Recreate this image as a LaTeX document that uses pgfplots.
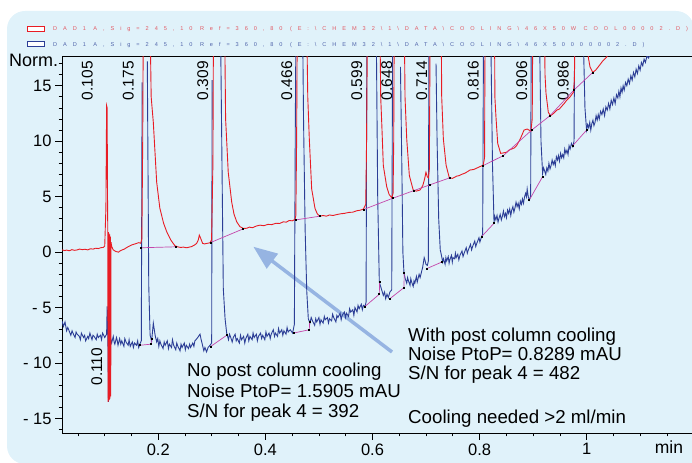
\documentclass[border=0pt]{standalone}
\usepackage{fontspec}
\setmainfont{Liberation Sans}
\newfontfamily\legfont{Liberation Sans}[LetterSpace=106]
\usepackage{pgfplots}
\pgfplotsset{compat=1.18}
\usetikzlibrary{arrows.meta}
\definecolor{bgblue}{RGB}{224,242,250}
\definecolor{trred}{RGB}{232,28,36}
\definecolor{trblue}{RGB}{44,62,150}
\definecolor{basemag}{RGB}{196,70,170}
\definecolor{arrowblue}{RGB}{150,180,226}
\definecolor{legred}{RGB}{226,90,100}
\definecolor{legblue}{RGB}{80,100,170}
\begin{document}
\begin{tikzpicture}
\begin{scope}[x=1bp,y=1bp]
\fill[bgblue,rounded corners=18bp] (7,-1) rectangle (694,452);
\fill[bgblue] (600,-1) rectangle (700,100);
% legend
\draw[trred,line width=0.8bp,fill=white] (27,431.5) rectangle (44,436.5);
\draw[trblue,line width=0.8bp,fill=white] (27,416.2) rectangle (44,421.2);
\node[anchor=base west,inner sep=0,text=legred,font=\legfont\fontsize{5.6bp}{6bp}\selectfont] at (53,432) {DAD1 A,Sig=245,10 Ref=360,80 (E:\textbackslash CHEM32\textbackslash 1\textbackslash DATA\textbackslash COOLING\textbackslash 46X50W COOL00002.D)};
\node[anchor=base west,inner sep=0,text=legblue,font=\legfont\fontsize{5.6bp}{6bp}\selectfont] at (53,416.7) {DAD1 A,Sig=245,10 Ref=360,80 (E:\textbackslash CHEM32\textbackslash 1\textbackslash DATA\textbackslash COOLING\textbackslash 46X50000002.D)};
% arrow
\draw[arrowblue,line width=3.5bp,-{Triangle[length=24bp,width=18bp]}] (392,111) -- (253.3,216.3);
\end{scope}
\begin{axis}[at={(62bp,30bp)},anchor=south west,scale only axis,
  width=630bp,height=376.3bp,
  xmin=0.0202,xmax=1.1966,ymin=-16.31,ymax=17.62,
  axis x line*=bottom,axis y line*=left,
  axis line style={black,line width=0.8bp},
  xtick={0.2,0.4,0.6,0.8,1},xticklabels={0.2,0.4,0.6,0.8,1},
  minor xtick={0.05,0.1,...,1.15},
  ytick={-15,-10,-5,0,5,10,15},yticklabels={- 15,- 10,- 5,0,5,10,15},
  minor ytick={-16,-15,...,17},
  tick align=outside,major tick length=7bp,minor tick length=3.5bp,
  tick style={black,line width=0.7bp},
  ticklabel style={font=\fontsize{16.5bp}{18bp}\selectfont},
  unbounded coords=jump,
  clip=true]
\draw[black,line width=0.8bp] (rel axis cs:0,1) -- (rel axis cs:1,1);
\foreach \t/\x in {0.105/0.0674,0.175/0.1440,0.309/0.2829,0.466/0.4398,0.599/0.5705,0.648/0.6265,0.714/0.6919,0.816/0.7882,0.906/0.8786,0.986/0.9563}{
  \edef\tmp{\noexpand\node[rotate=90,inner sep=0,font=\noexpand\fontsize{15.5bp}{16bp}\noexpand\selectfont] at (axis cs:\x,15.46) {\t};}\tmp
}
\node[rotate=90,inner sep=0,font=\fontsize{15.5bp}{16bp}\selectfont] at (axis cs:0.0850,-10.33) {0.110};
% blue trace
\addplot[trblue,line width=0.9bp,no marks] coordinates {
(0.0202,-6.2) (0.0229,-6.7) (0.0258,-6.3) (0.0288,-7.1) (0.0310,-6.8) (0.0327,-7.0) (0.0367,-7.5) (0.0390,-7.1) (0.0406,-7.3) (0.0446,-7.7) (0.0465,-7.2) (0.0485,-7.4) (0.0525,-7.6) (0.0545,-7.9) (0.0564,-7.3) (0.0604,-7.7) (0.0625,-7.5) (0.0643,-8.0) (0.0683,-7.6) (0.0700,-7.8) (0.0723,-7.3) (0.0762,-7.9) (0.0780,-7.5) (0.0802,-7.6) (0.0841,-7.9) (0.0860,-7.4) (0.0881,-7.7) (0.0921,-7.5) (0.0940,-7.9) (0.0960,-7.3) (0.1000,-7.7) (0.1035,-7.4)
(0.1045,-4.9) (0.1055,-6.0) (0.1070,-13.5)
(0.1080,-7.5) (0.1100,-8.4) (0.1115,-7.9) (0.1129,-8.2) (0.1159,-7.6) (0.1175,-8.1) (0.1189,-8.3) (0.1219,-7.7) (0.1235,-8.0) (0.1248,-8.4) (0.1278,-7.8) (0.1300,-8.3) (0.1318,-8.0) (0.1358,-8.5) (0.1375,-7.8) (0.1397,-8.1) (0.1437,-8.4) (0.1455,-7.9) (0.1476,-8.5) (0.1515,-8.1) (0.1535,-8.6) (0.1555,-8.2) (0.1595,-8.4) (0.1615,-8.0) (0.1634,-8.6) (0.1663,-8.2) (0.1683,-8.0) (0.1698,15.3)
(0.1750,nan)
(0.1795,17.2) (0.1822,-3) (0.1847,-7.5) (0.1876,-8.0) (0.1907,-6.4)
(0.1941,-7.5) (0.1970,-8.1) (0.1990,-7.8) (0.2010,-8.5) (0.2030,-8.0) (0.2049,-8.3) (0.2089,-8.7) (0.2110,-8.1) (0.2129,-8.4) (0.2168,-8.0) (0.2190,-8.7) (0.2208,-8.3) (0.2247,-8.6) (0.2265,-7.9) (0.2287,-8.4) (0.2326,-8.8) (0.2345,-8.2) (0.2366,-8.5) (0.2406,-8.9) (0.2425,-8.3) (0.2445,-8.6) (0.2485,-8.2) (0.2505,-8.8) (0.2524,-8.4) (0.2564,-8.7) (0.2585,-8.3) (0.2603,-8.6) (0.2643,-8.2) (0.2665,-8.5) (0.2683,-8.0) (0.2722,-7.8) (0.2750,-7.6) (0.2779,-7.4) (0.2801,-7.9) (0.2831,-8.5) (0.2850,-8.9) (0.2871,-8.6) (0.2901,-9.0) (0.2930,-8.6) (0.2966,-8.4) (0.2997,-8.2) (0.3005,15.5)
(0.3100,nan)
(0.3165,19) (0.3214,-3.3) (0.3247,-6) (0.3277,-7.3)
(0.3311,-7.9) (0.3330,-7.4) (0.3346,-7.6) (0.3380,-8.1) (0.3401,-7.7) (0.3435,-7.4) (0.3455,-8.0) (0.3474,-7.8) (0.3514,-8.2) (0.3535,-7.5) (0.3554,-7.9) (0.3593,-7.6) (0.3615,-8.2) (0.3633,-7.8) (0.3672,-7.4) (0.3690,-8.0) (0.3712,-7.6) (0.3752,-7.9) (0.3770,-7.3) (0.3791,-7.7) (0.3831,-7.4) (0.3850,-8.0) (0.3870,-7.6) (0.3910,-7.3) (0.3930,-7.8) (0.3950,-7.5) (0.3989,-7.9) (0.4010,-7.2) (0.4029,-7.6) (0.4068,-7.3) (0.4090,-7.8) (0.4108,-7.4) (0.4148,-7.0) (0.4170,-7.6) (0.4187,-7.3) (0.4227,-7.6) (0.4245,-6.9) (0.4266,-7.3) (0.4306,-7.0) (0.4325,-7.5) (0.4346,-7.1) (0.4385,-7.4) (0.4405,-6.8) (0.4425,-7.2) (0.4464,-7.0) (0.4508,-7.3)
(0.4541,-6.5) (0.4559,12) (0.4569,19) (0.4698,19) (0.4712,12) (0.4742,2) (0.4772,-3.5) (0.4801,-6.0)
(0.4831,-6.4) (0.4855,-5.9) (0.4880,-6.2) (0.4920,-6.6) (0.4940,-6.0) (0.4959,-6.3) (0.4999,-5.9) (0.5020,-6.5) (0.5038,-6.1) (0.5078,-6.4) (0.5100,-5.8) (0.5118,-6.1) (0.5157,-5.9) (0.5178,-6.4) (0.5197,-6.0) (0.5236,-6.2) (0.5255,-5.6) (0.5276,-5.9) (0.5316,-6.3) (0.5335,-5.7) (0.5355,-5.9) (0.5395,-5.5) (0.5415,-6.1) (0.5434,-5.7) (0.5474,-5.4) (0.5495,-5.9) (0.5513,-5.5) (0.5553,-5.8) (0.5572,-5.1) (0.5593,-5.4) (0.5632,-5.2) (0.5652,-5.7) (0.5672,-5.0) (0.5711,-5.4) (0.5730,-4.8) (0.5751,-5.1) (0.5790,-4.7) (0.5810,-5.2) (0.5830,-4.8) (0.5860,-4.9) (0.5880,-4.5)
(0.5894,19) (0.6072,19) (0.6097,5) (0.6127,-2.7) (0.6202,-3.9) (0.6225,-3.6) (0.6246,-4.2) (0.6270,-3.8) (0.6295,-4.1) (0.6325,-3.6) (0.6359,-3.4) (0.6375,19)
(0.6420,nan)
(0.6522,16.7) (0.6547,8) (0.6567,0) (0.6588,-1.9)
(0.6611,-2.4) (0.6639,-2.8) (0.6655,-2.3) (0.6672,-2.6) (0.6701,-3.0) (0.6715,-2.4) (0.6731,-2.7) (0.6760,-3.1) (0.6775,-2.6) (0.6790,-2.8) (0.6820,-2.2) (0.6835,-2.7) (0.6850,-2.4) (0.6870,-2.0) (0.6889,-2.3) (0.6919,-1.7) (0.6935,-1.4) (0.6949,-1.0) (0.6965,-0.5) (0.6978,-0.7) (0.6998,-1.1) (0.7024,-1.2) (0.7043,-0.8) (0.7053,19)
(0.7100,nan)
(0.7186,17.0) (0.7206,10) (0.7236,3) (0.7265,0.2)
(0.7292,-0.4) (0.7310,-0.9) (0.7326,-0.6) (0.7355,-1.1) (0.7370,-0.5) (0.7385,-0.8) (0.7414,-0.4) (0.7430,-1.0) (0.7444,-0.7) (0.7474,-0.3) (0.7490,-0.9) (0.7503,-0.5) (0.7533,-0.6) (0.7548,-0.1) (0.7562,-0.5) (0.7592,-0.2) (0.7612,-0.7) (0.7632,-0.3) (0.7671,0.1) (0.7690,-0.4) (0.7711,-0.1) (0.7750,0.4) (0.7770,-0.1) (0.7790,0.2) (0.7830,0.7) (0.7850,0.2) (0.7869,0.5) (0.7909,1.0) (0.7928,0.5) (0.7948,0.8) (0.7988,1.3) (0.8005,0.9) (0.8017,1.1) (0.8037,1.4) (0.8057,1.6)
(0.8072,19) (0.8210,19) (0.8240,8)
(0.8269,2.7) (0.8285,3.2) (0.8304,2.9) (0.8325,3.3) (0.8344,2.7) (0.8365,3.1) (0.8384,3.4) (0.8405,2.9) (0.8423,3.2) (0.8445,3.7) (0.8463,3.2) (0.8485,3.5) (0.8502,3.1) (0.8522,3.8) (0.8542,3.5) (0.8562,3.9) (0.8582,3.3) (0.8600,3.8) (0.8621,4.1) (0.8640,3.6) (0.8661,4.0) (0.8680,4.5) (0.8700,4.1) (0.8720,4.4) (0.8740,3.9) (0.8760,4.6) (0.8780,4.3) (0.8800,4.8) (0.8819,4.4) (0.8840,5.0) (0.8859,5.3) (0.8875,5.0) (0.8888,5.7) (0.8908,5.0) (0.8928,4.7) (0.8953,5.0)
(0.8963,19) (0.9121,19) (0.9146,10)
(0.9176,7.1) (0.9195,7.6) (0.9215,7.3) (0.9235,7.0) (0.9255,7.6) (0.9275,7.3) (0.9294,8.0) (0.9315,7.5) (0.9334,7.8) (0.9354,8.3) (0.9374,7.9) (0.9395,8.2) (0.9413,7.8) (0.9433,8.6) (0.9453,8.3) (0.9472,8.7) (0.9492,8.2) (0.9512,8.9) (0.9532,8.5) (0.9552,8.8) (0.9571,8.5) (0.9590,9.3) (0.9611,8.9) (0.9631,9.2) (0.9651,8.8) (0.9670,9.6) (0.9690,9.3) (0.9715,9.8) (0.9740,9.5) (0.9763,10)
(0.9774,19) (0.9938,19) (0.9967,13)
(0.9997,11.0) (1.0017,11.5) (1.0037,11.2) (1.0057,11.7) (1.0076,11.0) (1.0096,11.6) (1.0116,11.9) (1.0135,11.4) (1.0155,11.7) (1.0175,12.3) (1.0195,11.9) (1.0215,12.4) (1.0234,12.0) (1.0259,12.7) (1.0284,12.4) (1.0308,12.9) (1.0333,12.3) (1.0358,13.1) (1.0383,12.8) (1.0408,13.4) (1.0432,12.9) (1.0457,13.7) (1.0482,13.3) (1.0507,13.9) (1.0531,13.4) (1.0556,14.2) (1.0581,13.9) (1.0600,14.5) (1.0620,14.0) (1.0640,14.8) (1.0660,14.4) (1.0680,15.0) (1.0700,14.6) (1.0725,15.3) (1.0749,15.0) (1.0774,15.6) (1.0799,15.2) (1.0824,15.9) (1.0848,15.5) (1.0873,16.2) (1.0898,15.8) (1.0922,16.5) (1.0947,16.1) (1.0972,16.8) (1.0997,16.4) (1.1021,17.1) (1.1046,16.8) (1.1071,17.4) (1.1096,17.1) (1.1125,17.7) (1.1155,17.5) (1.1214,18.2)
};
% red trace
\addplot[trred,line width=0.9bp,no marks] coordinates {
(0.0202,0.20) (0.0250,0.14) (0.0288,0.18) (0.0340,0.12) (0.0387,0.22) (0.0440,0.16) (0.0486,0.20) (0.0530,0.27) (0.0584,0.22) (0.0630,0.26) (0.0684,0.20) (0.0730,0.30) (0.0783,0.27) (0.0830,0.35) (0.0882,0.32) (0.0930,0.40) (0.0971,0.42) (0.1000,0.55) (0.1022,4.0) (0.1035,13.2) (0.1045,13.0) (0.1052,5.0) (0.1058,1.0) (0.1062,-13.5) (0.1068,1.8) (0.1074,-13.4) (0.1080,1.7) (0.1086,-13.3) (0.1092,1.6) (0.1098,-13.2) (0.1104,1.4) (0.1112,-13.0) (0.1118,0.9) (0.1130,0.5) (0.1159,0.2) (0.1208,0.05) (0.1258,0.0) (0.1290,0.12) (0.1327,0.2) (0.1370,0.28) (0.1406,0.4) (0.1450,0.52) (0.1505,0.65) (0.1540,0.7) (0.1574,0.75) (0.1634,0.85) (0.1673,0.8) (0.1693,1.2) (0.1709,10) (0.1718,19) (0.1852,19) (0.1867,14) (0.1907,11.7) (0.1970,6.3) (0.2029,3.96) (0.2099,2.6) (0.2158,1.83) (0.2232,1.1) (0.2311,0.57) (0.2360,0.48) (0.2415,0.42) (0.2470,0.45) (0.2529,0.39) (0.2580,0.45) (0.2623,0.5) (0.2670,0.62) (0.2716,0.78) (0.2747,1.1) (0.2766,1.53) (0.2787,1.3) (0.2828,0.78) (0.2865,0.74) (0.2901,0.78) (0.2966,0.84) (0.2995,1.1) (0.3020,8) (0.3029,19) (0.3242,19) (0.3257,12) (0.3306,7.2) (0.3371,4.5) (0.3415,3.4) (0.3465,2.73) (0.3524,2.3) (0.3589,2.13) (0.3650,2.15) (0.3702,2.25) (0.3760,2.2) (0.3830,2.35) (0.3900,2.43) (0.3970,2.38) (0.4048,2.5) (0.4120,2.48) (0.4197,2.6) (0.4265,2.58) (0.4335,2.73) (0.4390,2.7) (0.4444,2.85) (0.4500,2.82) (0.4553,2.94) (0.4568,3.3) (0.4583,10) (0.4593,19) (0.4776,19) (0.4791,14) (0.4820,10.2) (0.4864,5.7) (0.4926,3.94) (0.4969,3.45) (0.5018,3.24) (0.5080,3.3) (0.5137,3.24) (0.5200,3.35) (0.5260,3.3) (0.5331,3.38) (0.5400,3.45) (0.5483,3.5) (0.5560,3.58) (0.5632,3.6) (0.5700,3.72) (0.5770,3.78) (0.5829,3.87) (0.5874,4.3) (0.5889,10) (0.5903,19) (0.6142,19) (0.6153,14) (0.6172,11.7) (0.6202,7.8) (0.6265,5.9) (0.6310,5.2) (0.6359,4.9) (0.6384,5.3) (0.6396,10) (0.6404,19) (0.6597,19) (0.6607,14) (0.6639,10.2) (0.6688,6.9) (0.6760,5.6) (0.6820,5.5) (0.6887,5.6) (0.6939,6.0) (0.6973,6.6) (0.6998,7.2) (0.7023,6.8) (0.7043,6.7) (0.7062,7.5) (0.7074,19) (0.7285,19) (0.7292,14) (0.7323,10.2) (0.7374,7.84) (0.7434,6.7) (0.7493,6.65) (0.7572,6.85) (0.7620,6.9) (0.7661,7.0) (0.7740,7.15) (0.7819,7.4) (0.7890,7.45) (0.7958,7.6) (0.8067,7.84) (0.8092,8.5) (0.8101,19) (0.8280,19) (0.8285,14) (0.8305,12.2) (0.8338,9.8) (0.8393,8.9) (0.8450,8.95) (0.8502,9.0) (0.8550,9.2) (0.8601,9.3) (0.8650,9.4) (0.8690,9.6) (0.8759,10.2) (0.8829,11.0) (0.8888,11.1) (0.8958,10.9) (0.8982,12) (0.8991,19) (0.9215,19) (0.9221,16) (0.9240,14.3) (0.9283,12.6) (0.9324,12.3) (0.9380,12.5) (0.9440,12.8) (0.9490,12.9) (0.9542,13.2) (0.9580,13.4) (0.9627,13.7) (0.9690,14.0) (0.9750,14.4) (0.9770,15.5) (0.9779,19) (1.0022,19) (1.0032,17.5) (1.0061,16.7) (1.0112,16.2) (1.0165,16.4) (1.0215,16.7) (1.0294,17.2) (1.0373,17.6) (1.0482,18.5)
};
% baselines
\addplot[basemag,line width=0.7bp,mark=square*,mark size=0.5bp,mark options={black}] coordinates {
(0.1673,0.39) (0.2331,0.48) (0.26,nan)
(0.2980,0.87) (0.3573,2.07) (0.40,nan)
(0.4563,2.9) (0.5018,3.24) (0.55,nan)
(0.5839,3.85) (0.6375,4.85) (0.6775,5.55) (0.7062,6.05) (0.7444,6.7) (0.78,nan)
(0.8067,7.8) (0.8443,8.7) (0.8972,11.0) (0.9314,12.3) (0.9759,14.6) (1.0112,16.2)
};
\addplot[basemag,line width=0.7bp,mark=square*,mark size=0.5bp,mark options={black}] coordinates {
(0.1658,-8.4) (0.1866,-8.3) (0.1871,-7.8) (0.24,nan)
(0.2980,-8.5) (0.3277,-7.5) (0.40,nan)
(0.4524,-7.3) (0.4820,-7.0) (0.4825,-6.3) (0.53,nan)
(0.5859,-4.9) (0.6127,-3.8) (0.6132,-2.7) (0.62,nan)
(0.6325,-4.2) (0.6588,-3.2) (0.6592,-1.9) (0.68,nan)
(0.7008,-1.5) (0.7292,-0.9) (0.76,nan)
(0.8037,1.4) (0.8269,2.6) (0.86,nan)
(0.8928,4.7) (0.9176,6.8) (0.95,nan)
(0.9740,9.6) (0.9997,11.0)
};
\end{axis}
\begin{scope}[x=1bp,y=1bp]
% axis texts
\node[anchor=base west,inner sep=0,font=\fontsize{18bp}{20bp}\selectfont] at (9,396) {Norm.};
\node[anchor=base,inner sep=0,font=\fontsize{17.5bp}{20bp}\selectfont] at (669,9.5) {min};
% annotations
\begin{scope}[every node/.style={anchor=base west,inner sep=0,font=\fontsize{18.7bp}{20bp}\selectfont}]
\node at (187,86) {No post column cooling};
\node at (187,65.5) {Noise PtoP= 1.5905 mAU};
\node at (187,45) {S/N for peak 4 = 392};
\node at (408,121.3) {With post column cooling};
\node at (408,102.3) {Noise PtoP= 0.8289 mAU};
\node at (408,83.7) {S/N for peak 4 = 482};
\node at (408,39.7) {Cooling needed >2 ml/min};
\end{scope}
\pgfresetboundingbox
\path[use as bounding box] (0,0) rectangle (692,463);
\end{scope}
\end{tikzpicture}
\end{document}
